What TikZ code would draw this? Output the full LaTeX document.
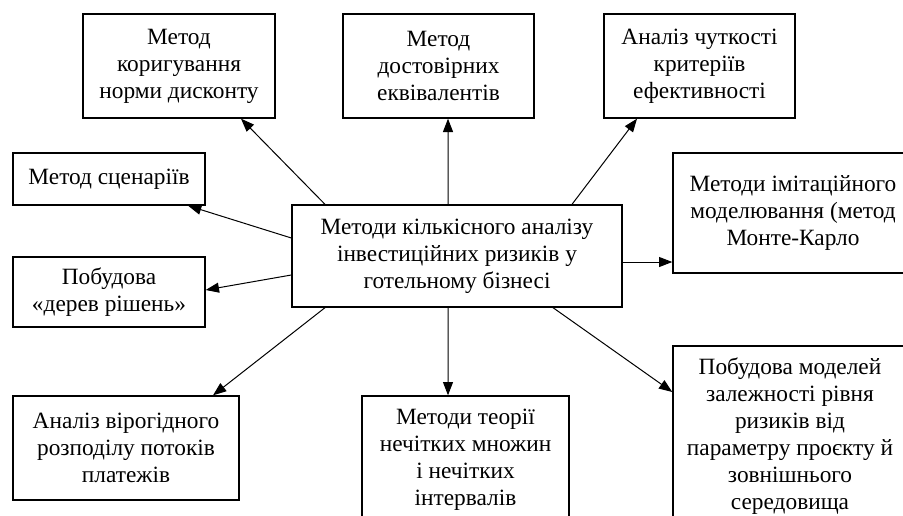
\documentclass[tikz,border=0pt]{standalone}
\usepackage{fontspec}
\setmainfont{Liberation Serif}
\usepackage{tikz}
\usetikzlibrary{arrows.meta, positioning}
\tikzset{
    method/.style={rectangle, draw=black, line width=0.8pt, inner sep=0pt, align=center, font=\fontsize{14}{16.2}\selectfont},
    link/.style={draw=black, line width=0.6pt, -{Triangle[length=8pt,width=6pt]}}
}

\begin{document}
\begin{tikzpicture}[x=0.6pt, y=-0.6pt]
            \useasboundingbox (0,0) rectangle (903,515);

            % Central box
            \node[method, minimum width=198pt, minimum height=61.2pt] (centre) at (457,256) {Методи кількісного аналізу\\інвестиційних ризиків у\\готельному бізнесі};

            % Top row
            \node[method, minimum width=115.2pt, minimum height=62.4pt] (discount) at (179,66) {Метод\\коригування\\норми дисконту};
            \node[method, minimum width=114.6pt, minimum height=62.4pt] (equiv) at (438.5,66) {Метод\\достовірних\\еквівалентів};
            \node[method, minimum width=114.6pt, minimum height=62.4pt] (sensit) at (699.5,66) {Аналіз чуткості\\критеріїв\\ефективності};

            % Left and right side
            \node[method, minimum width=115.2pt, minimum height=31.2pt] (scenario) at (109,179) {Метод сценаріїв};
            \node[method, minimum width=115.2pt, minimum height=42pt] (tree) at (109,292) {Побудова\\«дерев рішень»};
            \node[method, minimum width=144pt, minimum height=72pt] (montecarlo) at (793,213) {Методи імітаційного\\моделювання (метод\\Монте-Карло};

            % Bottom row
            \node[method, minimum width=135.6pt, minimum height=62.4pt] (flows) at (126,448) {Аналіз вірогідного\\розподілу потоків\\платежів};
            \node[method, minimum width=124.2pt, minimum height=76.8pt] (fuzzy) at (465.5,460) {Методи теорії\\нечітких множин\\і нечітких\\інтервалів};
            \node[method, minimum width=140.4pt, minimum height=108pt] (models) at (790,436) {Побудова моделей\\залежності рівня\\ризиків від\\параметру проєкту й\\зовнішнього\\середовища};

            % Arrows
            \draw[link] ([xshift=-79.2pt]centre.north) -- ([xshift=37.2pt]discount.south);
            \draw[link] ([xshift=-5.4pt]centre.north) -- ([xshift=5.7pt]equiv.south);
            \draw[link] ([xshift=69pt]centre.north) -- ([xshift=-37.5pt]sensit.south);
            \draw[link] ([yshift=10.8pt]centre.west) -- ([xshift=47.4pt]scenario.south);
            \draw[link] ([yshift=-11.4pt]centre.west) -- ([yshift=1.2pt]tree.east);
            \draw[link] ([yshift=-3.6pt]centre.east) -- ([yshift=-3.6pt]centre.east -| montecarlo.west);
            \draw[link] ([xshift=-79.2pt]centre.south) -- ([xshift=52.2pt]flows.north);
            \draw[link] ([xshift=-5.4pt]centre.south) -- ([xshift=-10.5pt]fuzzy.north);
            \draw[link] ([xshift=57.6pt]centre.south) -- ([yshift=26.4pt]models.west);

        \end{tikzpicture}
\end{document}
